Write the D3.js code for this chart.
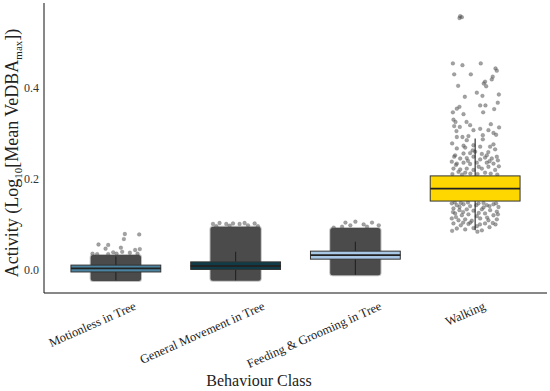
<!DOCTYPE html>
<html>
<head>
<meta charset="utf-8">
<script src="https://cdn.jsdelivr.net/npm/d3@7"></script>
<style>
  html, body { margin: 0; padding: 0; background: #fff; }
  svg { display: block; }
</style>
</head>
<body>
<svg id="chart"></svg>
<script>
// ── Data ────────────────────────────────────────────────────────────────────
var categories = ["Motionless in Tree", "General Movement in Tree", "Feeding & Grooming in Tree", "Walking"];
var boxFill = ["#4a84a0", "#0f3c48", "#a8c8e6", "#ffd700"];

// box statistics: [lower whisker, q1, median, q3, upper whisker]
var boxStats = [
  [-0.022, -0.004, 0.004, 0.011, 0.030],
  [-0.022, 0.0015, 0.009, 0.018, 0.040],
  [-0.010, 0.024, 0.033, 0.0415, 0.062],
  [0.087, 0.151, 0.178, 0.206, 0.288]
];

// extent of the solid (overplotted) point clouds: [low, high], null = none
var denseCloud = [
  [-0.024, 0.033],
  [-0.023, 0.095],
  [-0.011, 0.092],
  null
];

// individual visible points: [jitter offset (category units), value]
var motionlessPts = [
  [0.075, 0.079], [0.195, 0.078], [0.067, 0.068], [-0.145, 0.056], [-0.064, 0.055],
  [-0.086, 0.047], [0.042, 0.049], [0.161, 0.044], [0.200, 0.046], [0.181, 0.036],
  [-0.022, 0.039], [-0.195, 0.036], [-0.156, 0.035], [-0.064, 0.035], [0.006, 0.036],
  [0.117, 0.038], [0.053, 0.040]
];
var generalPts = [
  [-0.189, 0.101], [-0.134, 0.103], [-0.078, 0.101], [-0.022, 0.102], [0.033, 0.101],
  [0.103, 0.098], [0.159, 0.102], [0.186, 0.096], [-0.161, 0.096], [-0.050, 0.097],
  [0.075, 0.103]
];
var feedingPts = [
  [-0.083, 0.104], [0.000, 0.106], [0.069, 0.100], [0.139, 0.104], [0.195, 0.098],
  [-0.111, 0.095], [0.097, 0.095], [-0.042, 0.098], [-0.181, 0.093]
];
var walkingPts = [
  [-0.125, 0.555], [-0.111, 0.553], [-0.131, 0.551],
  [-0.186, 0.452], [-0.106, 0.448], [0.047, 0.452], [0.170, 0.441], [0.181, 0.436],
  [-0.175, 0.428], [-0.036, 0.428], [0.147, 0.423], [0.139, 0.417], [0.083, 0.412],
  [-0.142, 0.403], [0.072, 0.408], [0.092, 0.402], [0.198, 0.384], [0.014, 0.388],
  [0.061, 0.381], [-0.086, 0.379], [0.189, 0.366], [0.042, 0.360], [0.086, 0.360],
  [-0.131, 0.357], [-0.153, 0.353], [0.159, 0.352], [-0.186, 0.345], [-0.097, 0.341],
  [0.067, 0.345], [-0.181, 0.329], [-0.164, 0.324], [-0.072, 0.324], [0.131, 0.319],
  [-0.042, 0.317], [0.200, 0.312], [-0.175, 0.315], [-0.128, 0.313], [0.111, 0.306],
  [-0.014, 0.306], [0.042, 0.309], [-0.156, 0.304], [0.153, 0.300], [0.175, 0.296],
  [-0.153, 0.291], [-0.106, 0.291], [-0.056, 0.293], [-0.070, 0.284], [0.064, 0.295],
  [-0.192, 0.277], [-0.097, 0.272], [-0.014, 0.273], [0.064, 0.286], [-0.153, 0.266],
  [-0.083, 0.268], [0.000, 0.259], [0.042, 0.270], [0.125, 0.270], [0.153, 0.275],
  [-0.167, 0.251], [-0.097, 0.255], [-0.042, 0.256], [0.056, 0.254], [0.097, 0.251],
  [0.167, 0.264], [-0.175, 0.248], [-0.125, 0.244], [-0.070, 0.245], [-0.014, 0.248],
  [0.042, 0.242], [0.083, 0.246], [0.139, 0.244], [0.181, 0.248], [-0.195, 0.237],
  [-0.153, 0.233], [-0.097, 0.235], [-0.042, 0.232], [0.014, 0.235], [0.097, 0.235],
  [0.153, 0.233], [0.198, 0.227], [-0.181, 0.222], [-0.125, 0.220], [-0.070, 0.222],
  [-0.014, 0.219], [0.056, 0.222], [0.111, 0.226], [0.167, 0.219], [-0.139, 0.215],
  [-0.083, 0.213], [0.083, 0.213], [-0.190, 0.210], [-0.110, 0.209], [-0.040, 0.211],
  [0.020, 0.210], [0.130, 0.211], [0.185, 0.209], [-0.160, 0.230], [0.120, 0.238],
  [-0.060, 0.239], [0.030, 0.226], [0.190, 0.240], [-0.020, 0.262], [0.110, 0.258],
  [-0.195, 0.146], [-0.153, 0.142], [-0.097, 0.144], [-0.042, 0.140], [0.028, 0.146],
  [0.097, 0.142], [0.153, 0.144], [0.195, 0.138], [-0.181, 0.135], [-0.131, 0.131],
  [-0.070, 0.133], [-0.014, 0.130], [0.056, 0.133], [0.125, 0.131], [0.181, 0.128],
  [-0.167, 0.124], [-0.111, 0.120], [-0.056, 0.122], [0.014, 0.118], [0.083, 0.124],
  [0.153, 0.120], [-0.195, 0.113], [-0.139, 0.109], [-0.083, 0.111], [-0.028, 0.108],
  [0.042, 0.113], [0.111, 0.109], [0.181, 0.111], [-0.181, 0.102], [-0.120, 0.098],
  [-0.056, 0.101], [0.014, 0.096], [0.083, 0.102], [0.147, 0.103], [-0.153, 0.091],
  [-0.083, 0.089], [-0.014, 0.092], [0.056, 0.087], [-0.192, 0.086], [0.019, 0.084],
  [-0.170, 0.148], [-0.120, 0.147], [-0.060, 0.148], [0.010, 0.142], [0.070, 0.147],
  [0.120, 0.140], [0.175, 0.146], [-0.100, 0.127], [0.030, 0.125], [0.100, 0.115],
  [-0.160, 0.116], [0.170, 0.100], [-0.040, 0.104], [0.120, 0.094], [-0.130, 0.138],
  [0.070, 0.137], [0.190, 0.122], [-0.185, 0.127], [0.040, 0.100], [-0.100, 0.104]
];
var pointSets = [motionlessPts, generalPts, feedingPts, walkingPts];

var yTicks = [0.0, 0.2, 0.4];

// ── Layout ──────────────────────────────────────────────────────────────────
(function () {
  var width = 550, height = 391;
  var mLeft = 44, mRight = 547, mTop = 3, mBottom = 293;
  var font = "'Liberation Serif', 'DejaVu Serif', serif";

  var svg = d3.select("#chart").attr("width", width).attr("height", height);

  var x = d3.scalePoint().domain(categories).range([mLeft, mRight]).padding(0.6);
  var y = d3.scaleLinear().domain([-0.05, 0.584]).range([mBottom, mTop]);
  var step = x.step();
  var boxW = step * 0.75;

  // ── Points (solid clouds first) ──────────────────────────────────────────
  var cloudW = step * 0.42;
  svg.append("g").selectAll("rect")
    .data(denseCloud.map(function (d, i) { return { c: categories[i], r: d }; })
      .filter(function (d) { return d.r; }))
    .join("rect")
    .attr("x", function (d) { return x(d.c) - cloudW / 2; })
    .attr("width", cloudW)
    .attr("y", function (d) { return y(d.r[1]); })
    .attr("height", function (d) { return y(d.r[0]) - y(d.r[1]); })
    .attr("rx", 2.5)
    .attr("fill", "#4b4b4b")
    .attr("stroke", "#4b4b4b")
    .attr("stroke-opacity", 0.35)
    .attr("stroke-width", 2);

  var flat = [];
  pointSets.forEach(function (pts, i) {
    pts.forEach(function (p) { flat.push({ c: categories[i], dx: p[0], v: p[1] }); });
  });
  svg.append("g").selectAll("circle")
    .data(flat)
    .join("circle")
    .attr("cx", function (d) { return x(d.c) + d.dx * step; })
    .attr("cy", function (d) { return y(d.v); })
    .attr("r", 1.9)
    .attr("fill", "#555")
    .attr("fill-opacity", 0.55)
    .attr("stroke", "#444")
    .attr("stroke-opacity", 0.35)
    .attr("stroke-width", 0.5);

  // ── Boxplots ──────────────────────────────────────────────────────────────
  var boxes = svg.append("g").selectAll("g")
    .data(boxStats.map(function (s, i) { return { c: categories[i], s: s, fill: boxFill[i] }; }))
    .join("g");

  boxes.append("line")
    .attr("x1", function (d) { return x(d.c); })
    .attr("x2", function (d) { return x(d.c); })
    .attr("y1", function (d) { return y(d.s[0]); })
    .attr("y2", function (d) { return y(d.s[4]); })
    .attr("stroke", "#222")
    .attr("stroke-width", 1.1);

  boxes.append("rect")
    .attr("x", function (d) { return x(d.c) - boxW / 2; })
    .attr("width", boxW)
    .attr("y", function (d) { return y(d.s[3]); })
    .attr("height", function (d) { return y(d.s[1]) - y(d.s[3]); })
    .attr("fill", function (d) { return d.fill; })
    .attr("stroke", "#333")
    .attr("stroke-width", 1);

  boxes.append("line")
    .attr("x1", function (d) { return x(d.c) - boxW / 2; })
    .attr("x2", function (d) { return x(d.c) + boxW / 2; })
    .attr("y1", function (d) { return y(d.s[2]); })
    .attr("y2", function (d) { return y(d.s[2]); })
    .attr("stroke", "#222")
    .attr("stroke-width", 1.8);

  // ── Axes ──────────────────────────────────────────────────────────────────
  var yAxis = svg.append("g")
    .attr("transform", "translate(" + mLeft + ",0)")
    .call(d3.axisLeft(y).tickValues(yTicks).tickFormat(d3.format(".1f")).tickSize(0).tickPadding(5));
  yAxis.select(".domain").remove();
  yAxis.selectAll("text").attr("font-family", font).attr("font-size", 12).attr("fill", "#333");

  svg.append("path")
    .attr("d", "M" + mLeft + "," + mTop + "V" + mBottom + "H" + mRight)
    .attr("fill", "none")
    .attr("stroke", "#111")
    .attr("stroke-width", 1);

  // rotated category labels (anchor = end of baseline, offset from tick)
  var labelShift = [21, 30, 27, 11];
  svg.append("g").selectAll("text")
    .data(categories)
    .join("text")
    .attr("transform", function (d, i) {
      return "translate(" + (x(d) + labelShift[i]) + "," + (mBottom + 16) + ") rotate(-24)";
    })
    .attr("text-anchor", "end")
    .attr("font-family", font)
    .attr("font-size", 12.5)
    .attr("fill", "#222")
    .text(function (d) { return d; });

  svg.append("text")
    .attr("x", 259)
    .attr("y", 386)
    .attr("text-anchor", "middle")
    .attr("font-family", font)
    .attr("font-size", 16)
    .attr("fill", "#222")
    .text("Behaviour Class");

  var yt = svg.append("text")
    .attr("transform", "translate(18,153) rotate(-90)")
    .attr("text-anchor", "middle")
    .attr("font-family", font)
    .attr("font-size", 18)
    .attr("fill", "#222");
  yt.append("tspan").text("Activity (Log");
  yt.append("tspan").attr("font-size", 11).attr("dy", 4).text("10");
  yt.append("tspan").attr("dy", -4).text("[Mean VeDBA");
  yt.append("tspan").attr("font-size", 11).attr("dy", 4).text("max");
  yt.append("tspan").attr("dy", -4).text("])");
})();
</script>
</body>
</html>
